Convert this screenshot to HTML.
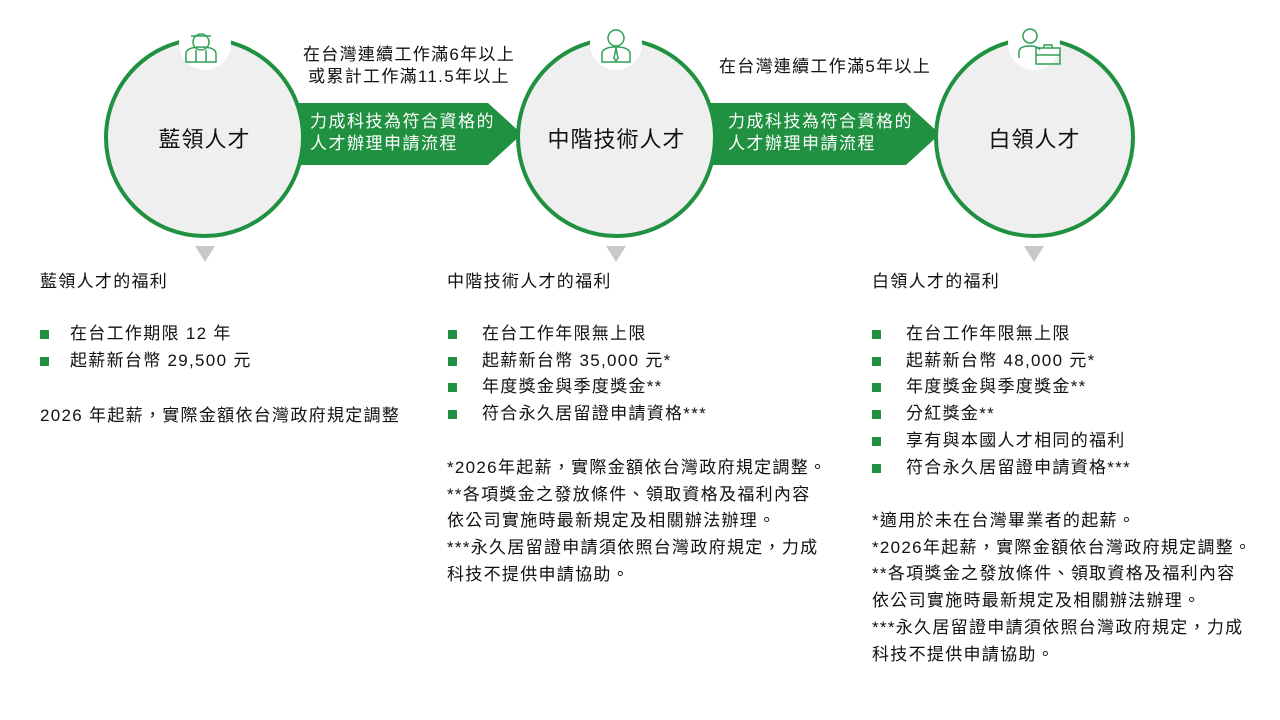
<!DOCTYPE html>
<html><head><meta charset="utf-8"><style>
body{margin:0;width:1280px;height:720px;background:#fff;position:relative;overflow:hidden;font-family:"Liberation Sans","Noto Sans CJK TC",sans-serif;color:#111}
.c{position:absolute;width:193px;height:193px;border:4px solid #1f9140;border-radius:50%;background:#efefef;display:flex;align-items:center;justify-content:center;font-size:22px;letter-spacing:1px}
.ic{position:absolute;width:52px;height:52px;border-radius:50%;background:#fff}
.t{position:absolute;font-size:17px;letter-spacing:1.3px;line-height:26.7px;white-space:nowrap}
.tri{position:absolute;width:0;height:0;border-left:10px solid transparent;border-right:10px solid transparent;border-top:16px solid #c8c8c8}
ul{list-style:none;margin:0;padding:0}
li{position:relative;padding-left:30px}
li:before{content:"";position:absolute;left:0;top:9px;width:9px;height:9px;background:#1f9140}
.lbl{position:absolute;font-size:17px;letter-spacing:1.3px;line-height:22px;text-align:center;white-space:nowrap}
.ar{position:absolute;color:#fff;font-size:17px;letter-spacing:1.5px;line-height:22px}
</style></head><body>
<svg style="position:absolute;left:0;top:0" width="1280" height="720">
<polygon points="296,103 488,103 522,134 488,165 296,165" fill="#1f9140"/>
<polygon points="708,103 906,103 940,134 906,165 708,165" fill="#1f9140"/>
</svg>
<div class="c" style="left:104px;top:37px">藍領人才</div>
<div class="c" style="left:516px;top:37px">中階技術人才</div>
<div class="c" style="left:934px;top:37px">白領人才</div>
<div class="ic" style="left:179px;top:18px"></div>
<div class="ic" style="left:590px;top:18px"></div>
<div class="ic" style="left:1008px;top:18px"></div>
<svg style="position:absolute;left:0;top:0" width="1280" height="720" fill="none" stroke="#2fa055" stroke-width="1.5">
<circle cx="201" cy="42" r="8"/><path d="M191 36h20M186 62v-8q0-7 15-7q15 0 15 7v8z M196 50v12M206 50v12"/>
<circle cx="616" cy="38" r="8"/><path d="M602 62v-8q0-7 14-7q14 0 14 7v8zM616 48l-2 10 2 3 2-3z"/>
<circle cx="1030" cy="36" r="7"/><path d="M1019 58v-6q0-6 11-6q8 0 10 4"/><rect x="1036" y="48" width="24" height="16"/><path d="M1044 48v-3h8v3M1036 55h24"/>
</svg>
<div class="ar" style="left:310px;top:111px">力成科技為符合資格的<br>人才辦理申請流程</div>
<div class="ar" style="left:728px;top:111px">力成科技為符合資格的<br>人才辦理申請流程</div>
<div class="lbl" style="left:293px;top:44px;width:232px">在台灣連續工作滿6年以上<br>或累計工作滿11.5年以上</div>
<div class="lbl" style="left:710px;top:56px;width:230px">在台灣連續工作滿5年以上</div>
<div class="tri" style="left:195px;top:246px"></div>
<div class="tri" style="left:606px;top:246px"></div>
<div class="tri" style="left:1024px;top:246px"></div>
<div class="t" style="left:40px;top:269px">藍領人才的福利</div>
<div class="t" style="left:40px;top:321px"><ul><li>在台工作期限 12 年</li><li>起薪新台幣 29,500 元</li></ul></div>
<div class="t" style="left:40px;top:403px">2026 年起薪，實際金額依台灣政府規定調整</div>
<div class="t" style="left:447px;top:269px">中階技術人才的福利</div>
<div class="t" style="left:447px;top:321px"><ul style="margin-left:1px"><li style="padding-left:34px">在台工作年限無上限</li><li style="padding-left:34px">起薪新台幣 35,000 元*</li><li style="padding-left:34px">年度獎金與季度獎金**</li><li style="padding-left:34px">符合永久居留證申請資格***</li></ul></div>
<div class="t" style="left:447px;top:455px">*2026年起薪，實際金額依台灣政府規定調整。<br>**各項獎金之發放條件、領取資格及福利內容<br>依公司實施時最新規定及相關辦法辦理。<br>***永久居留證申請須依照台灣政府規定，力成<br>科技不提供申請協助。</div>
<div class="t" style="left:872px;top:269px">白領人才的福利</div>
<div class="t" style="left:872px;top:321px"><ul><li style="padding-left:34px">在台工作年限無上限</li><li style="padding-left:34px">起薪新台幣 48,000 元*</li><li style="padding-left:34px">年度獎金與季度獎金**</li><li style="padding-left:34px">分紅獎金**</li><li style="padding-left:34px">享有與本國人才相同的福利</li><li style="padding-left:34px">符合永久居留證申請資格***</li></ul></div>
<div class="t" style="left:872px;top:508px">*適用於未在台灣畢業者的起薪。<br>*2026年起薪，實際金額依台灣政府規定調整。<br>**各項獎金之發放條件、領取資格及福利內容<br>依公司實施時最新規定及相關辦法辦理。<br>***永久居留證申請須依照台灣政府規定，力成<br>科技不提供申請協助。</div>
</body></html>
